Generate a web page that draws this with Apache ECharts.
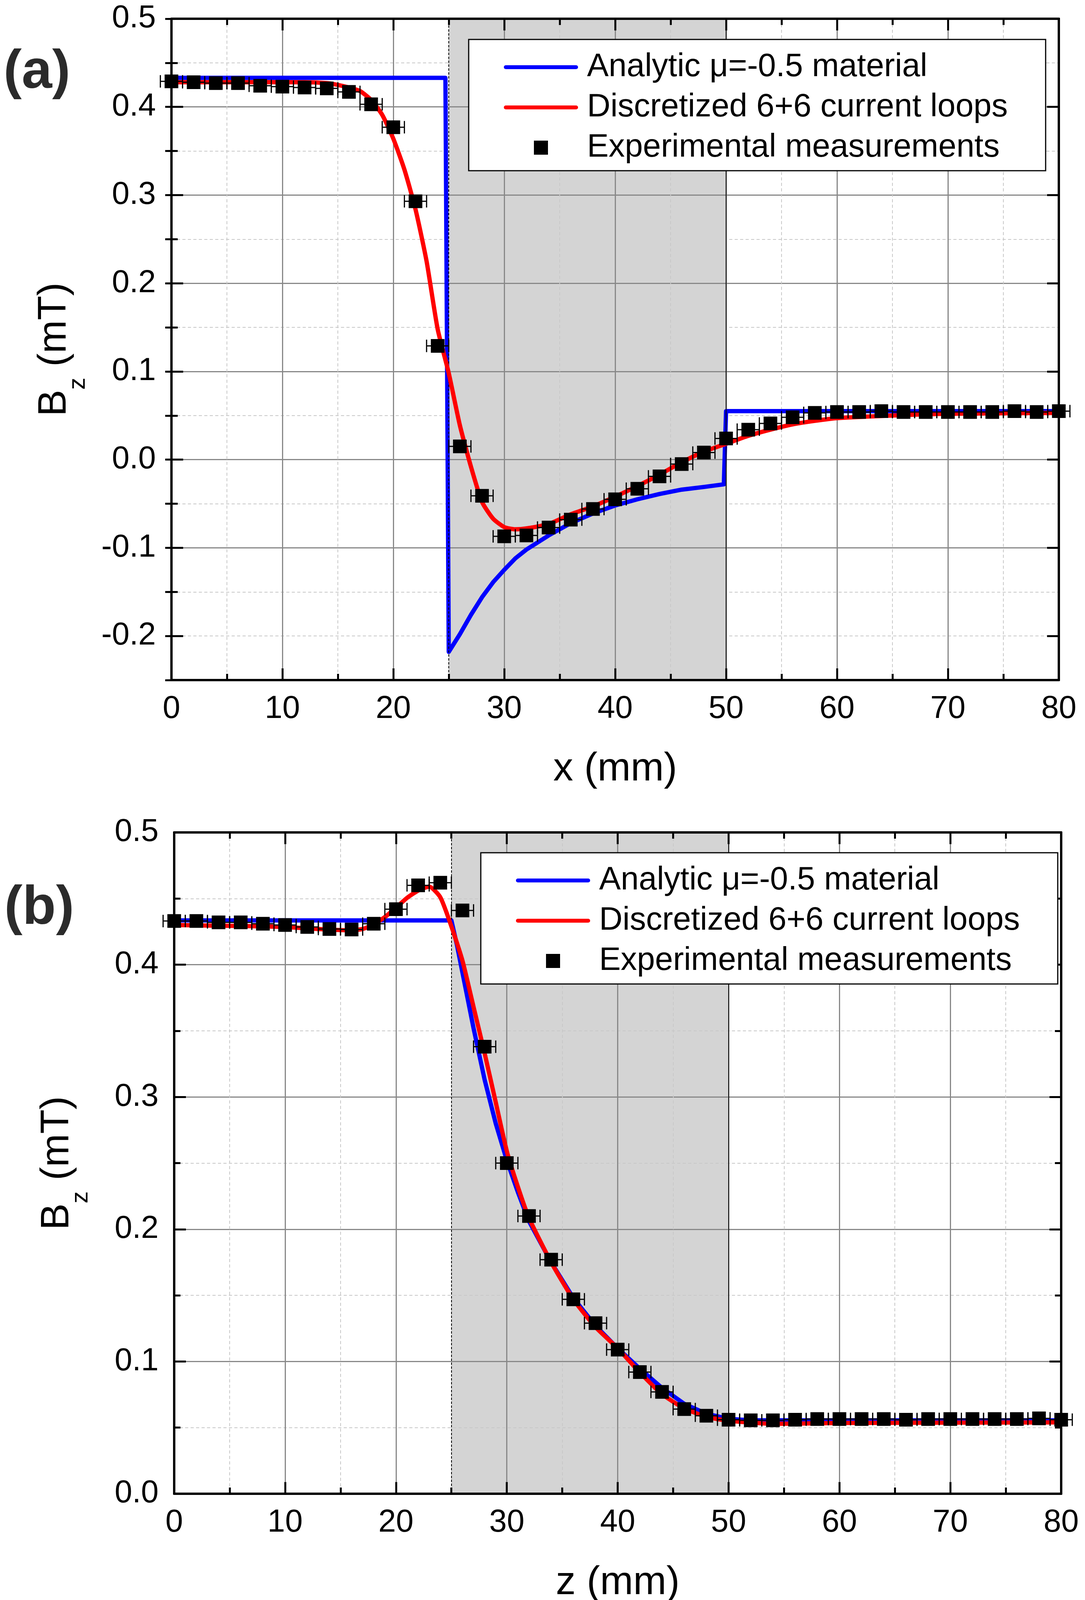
<!DOCTYPE html>
<html>
<head>
<meta charset="utf-8">
<title>Bz profiles</title>
<script src="https://cdn.jsdelivr.net/npm/echarts@6/dist/echarts.min.js"></script>
<style>
  html, body { margin: 0; background: #fff; }
  #chart { width: 2778px; height: 4133px; }
</style>
</head>
<body>
<div id="chart"></div>
<script>
var FONT = '"Liberation Sans", Arial, Helvetica, sans-serif';

// axis ticks
var xTicks = [0, 10, 20, 30, 40, 50, 60, 70, 80];
var yTicksA = [-0.2, -0.1, 0.0, 0.1, 0.2, 0.3, 0.4, 0.5];
var yTicksB = [0.0, 0.1, 0.2, 0.3, 0.4, 0.5];
var yRangeA = [-0.25, 0.5];
var yRangeB = [0.0, 0.5];

// material slab
var slab = [25, 50];

var NAME_AN = 'Analytic \u03bc=-0.5 material';
var NAME_DI = 'Discretized 6+6 current loops';
var NAME_EX = 'Experimental measurements';

// measured positions (mm) and half-width of the position error bars
var measX = [0, 2, 4, 6, 8, 10, 12, 14, 16, 18, 20, 22, 24, 26, 28, 30, 32, 34, 36, 38, 40,
             42, 44, 46, 48, 50, 52, 54, 56, 58, 60, 62, 64, 66, 68, 70, 72, 74, 76, 78, 80];
var xErr = 1.0;

// (a) along x
var measYA = [0.429, 0.428, 0.427, 0.427, 0.424, 0.423, 0.422, 0.421, 0.417, 0.403, 0.377,
              0.293, 0.129, 0.015, -0.041, -0.087, -0.086, -0.077, -0.068, -0.056, -0.045,
              -0.033, -0.019, -0.005, 0.008, 0.024, 0.034, 0.041, 0.048, 0.053, 0.054,
              0.054, 0.055, 0.054, 0.054, 0.054, 0.054, 0.054, 0.055, 0.054, 0.055];
var anaA = [[0, 0.433], [24.7, 0.433], [25.0, -0.218], [26, -0.198], [27, -0.176], [28, -0.156],
            [29, -0.139], [30, -0.125], [31, -0.112], [32, -0.102], [34, -0.086], [36, -0.072],
            [38, -0.061], [40, -0.052], [42, -0.045], [44, -0.039], [46, -0.034], [48, -0.031],
            [49.8, -0.028], [50.0, 0.055], [80, 0.055]];
var disA = [[0, 0.428], [5, 0.428], [10, 0.428], [12, 0.428], [14, 0.427], [15, 0.425], [16, 0.422],
            [17, 0.418], [18, 0.408], [19, 0.391], [20, 0.364], [21, 0.329], [22, 0.284], [23, 0.225],
            [24, 0.148], [25, 0.098], [26, 0.039], [27, -0.008], [28, -0.048], [29, -0.067],
            [30, -0.0765], [31, -0.079], [32, -0.078], [34, -0.073], [36, -0.062], [38, -0.053],
            [40, -0.042], [42, -0.030], [44, -0.017], [46, -0.003], [48, 0.009], [50, 0.018],
            [52, 0.027], [54, 0.034], [56, 0.040], [58, 0.044], [60, 0.047], [65, 0.050],
            [70, 0.052], [80, 0.053]];

// (b) along z
var measYB = [0.433, 0.433, 0.432, 0.432, 0.431, 0.430, 0.4285, 0.427, 0.4266, 0.431, 0.442,
              0.460, 0.462, 0.441, 0.338, 0.250, 0.210, 0.177, 0.147, 0.129, 0.109,
              0.092, 0.077, 0.064, 0.059, 0.056, 0.0555, 0.0555, 0.056, 0.0565, 0.0565,
              0.0565, 0.0565, 0.056, 0.0565, 0.0565, 0.0565, 0.0565, 0.0565, 0.057, 0.056];
var anaB = [[0, 0.4335], [25, 0.4335], [25.5, 0.415], [26, 0.394], [27, 0.352], [28, 0.313],
            [29, 0.280], [30, 0.252], [31, 0.228], [32, 0.206], [34, 0.175], [36, 0.148],
            [38, 0.127], [40, 0.110], [42, 0.0945], [44, 0.080], [46, 0.068], [48, 0.0605],
            [50, 0.0566], [52, 0.0555], [60, 0.0555], [80, 0.0555]];
var disB = [[0, 0.430], [4, 0.4295], [8, 0.429], [10, 0.4285], [12, 0.4275], [14, 0.4265],
            [16, 0.426], [17, 0.427], [18, 0.4305], [19, 0.436], [20, 0.443], [21, 0.4505],
            [22, 0.456], [23, 0.459], [24, 0.451], [25, 0.429], [26, 0.403], [27, 0.368],
            [28, 0.333], [29, 0.296], [30, 0.259], [31, 0.232], [32, 0.2085], [34, 0.175],
            [36, 0.147], [38, 0.126], [40, 0.110], [42, 0.0917], [44, 0.0753], [46, 0.0646],
            [48, 0.0582], [50, 0.0552], [54, 0.0529], [60, 0.0535], [80, 0.054]];

var chart = echarts.init(document.getElementById('chart'), null, { renderer: 'canvas' });

var LINE_W = 11;
var AXIS_LINE = { show: true, onZero: false, lineStyle: { color: '#000', width: 6 } };
var MAJOR_TICK = { show: true, inside: true, length: 30, lineStyle: { color: '#000', width: 5 } };
var MINOR_TICK = { show: true, splitNumber: 2, length: 16, lineStyle: { color: '#000', width: 5 } };
var MAJOR_GRID = { show: true, showMinLine: false, showMaxLine: false,
                   lineStyle: { color: '#888', width: 3 } };
var MINOR_GRID = { show: true, lineStyle: { color: '#c8c8c8', width: 2, type: [8, 6] } };
var LABEL = { fontSize: 81, color: '#000', fontFamily: FONT };

// legend glyphs: a rounded bar for the curves, a square for the measurements
var ICON_BAR = 'path://M5,0 H185 A5,5 0 0 1 185,10 H5 A5,5 0 0 1 5,0 Z';
var ICON_SQ = 'path://M0,0 H10 V10 H0 Z';

function fmt1(v) { return Number(v).toFixed(1); }

function xAxisPair(gridIndex, title) {
  var base = {
    type: 'value', gridIndex: gridIndex, z: 2,
    min: xTicks[0], max: xTicks[xTicks.length - 1], interval: xTicks[1] - xTicks[0],
    axisLine: AXIS_LINE, axisTick: MAJOR_TICK, minorTick: MINOR_TICK
  };
  var bottom = Object.assign({}, base, {
    position: 'bottom',
    axisLabel: Object.assign({ margin: 34 }, LABEL),
    splitLine: MAJOR_GRID, minorSplitLine: MINOR_GRID,
    name: title, nameLocation: 'middle', nameGap: 178, nameMoveOverlap: false,
    nameTextStyle: { fontSize: 102, color: '#000', fontFamily: FONT }
  });
  var top = Object.assign({}, base, {
    position: 'top', axisLabel: { show: false },
    splitLine: { show: false }, minorSplitLine: { show: false }
  });
  return [bottom, top];
}

var Y_NAME = {
  name: '{b|B}{s|z}{b| (mT)}', nameLocation: 'middle', nameGap: 208, nameMoveOverlap: false,
  nameTextStyle: {
    color: '#000', fontFamily: FONT,
    rich: {
      b: { fontSize: 102, lineHeight: 110, verticalAlign: 'top', fontFamily: FONT, color: '#000' },
      s: { fontSize: 62, lineHeight: 142, verticalAlign: 'bottom', fontFamily: FONT, color: '#000' }
    }
  }
};

// (a): range starts at -0.25, so major ticks come from the tick list
var yAxesA = [
  Object.assign({
    type: 'value', gridIndex: 0, position: 'left', z: 2,
    min: yRangeA[0], max: yRangeA[1],
    axisLine: AXIS_LINE,
    axisTick: Object.assign({ customValues: yTicksA }, MAJOR_TICK),
    axisLabel: Object.assign({ customValues: yTicksA, margin: 40, formatter: fmt1 }, LABEL),
    splitLine: MAJOR_GRID
  }, Y_NAME),
  {
    type: 'value', gridIndex: 0, position: 'left', z: 1,
    min: yRangeA[0], max: yRangeA[1], interval: 0.05,
    axisLine: { show: false }, axisLabel: { show: false },
    axisTick: { show: true, inside: true, length: 16, lineStyle: { color: '#000', width: 5 } },
    splitLine: { show: true, showMinLine: false, showMaxLine: false, lineStyle: MINOR_GRID.lineStyle }
  },
  {
    type: 'value', gridIndex: 0, position: 'right', z: 2,
    min: yRangeA[0], max: yRangeA[1],
    axisLine: AXIS_LINE,
    axisTick: Object.assign({ customValues: yTicksA }, MAJOR_TICK),
    axisLabel: { show: false }, splitLine: { show: false }
  },
  {
    type: 'value', gridIndex: 0, position: 'right', z: 1,
    min: yRangeA[0], max: yRangeA[1], interval: 0.05,
    axisLine: { show: false }, axisLabel: { show: false },
    axisTick: { show: true, inside: true, length: 16, lineStyle: { color: '#000', width: 5 } },
    splitLine: { show: false }
  }
];

var yAxesB = [
  Object.assign({
    type: 'value', gridIndex: 1, position: 'left', z: 2,
    min: yTicksB[0], max: yTicksB[yTicksB.length - 1], interval: yTicksB[1] - yTicksB[0],
    axisLine: AXIS_LINE, axisTick: MAJOR_TICK, minorTick: MINOR_TICK,
    axisLabel: Object.assign({ margin: 40, formatter: fmt1 }, LABEL),
    splitLine: MAJOR_GRID, minorSplitLine: MINOR_GRID
  }, Y_NAME),
  {
    type: 'value', gridIndex: 1, position: 'right', z: 2,
    min: yRangeB[0], max: yRangeB[1], interval: yTicksB[1] - yTicksB[0],
    axisLine: AXIS_LINE, axisTick: MAJOR_TICK, minorTick: MINOR_TICK,
    axisLabel: { show: false }, splitLine: { show: false }, minorSplitLine: { show: false }
  }
];

function errorBar(params, api) {
  var x = api.value(0), y = api.value(1), e = api.value(2);
  var l = api.coord([x - e, y]);
  var r = api.coord([x + e, y]);
  var cap = 16;
  var st = { stroke: '#000', lineWidth: 3, fill: null };
  return {
    type: 'group',
    children: [
      { type: 'line', shape: { x1: l[0], y1: l[1], x2: r[0], y2: r[1] }, style: st },
      { type: 'line', shape: { x1: l[0], y1: l[1] - cap, x2: l[0], y2: l[1] + cap }, style: st },
      { type: 'line', shape: { x1: r[0], y1: r[1] - cap, x2: r[0], y2: r[1] + cap }, style: st }
    ]
  };
}

function panelSeries(xi, yi, measY, ana, dis) {
  var pts = measX.map(function (x, i) { return [x, measY[i]]; });
  var bars = measX.map(function (x, i) { return [x, measY[i], xErr]; });
  return [
    {
      type: 'line', name: 'slab', xAxisIndex: xi, yAxisIndex: yi, z: 0, data: [],
      silent: true,
      markArea: { silent: true, itemStyle: { color: '#d4d4d4', opacity: 1 },
                  data: [[{ xAxis: slab[0] }, { xAxis: slab[1] }]] }
    },
    {
      type: 'line', name: 'edges', xAxisIndex: xi, yAxisIndex: yi, z: 3, data: [],
      silent: true,
      markLine: {
        silent: true, symbol: ['none', 'none'], label: { show: false },
        data: [
          { xAxis: slab[0], lineStyle: { color: '#000', width: 2, type: [6, 4] } },
          { xAxis: slab[1], lineStyle: { color: '#000', width: 2, type: 'solid' } }
        ]
      }
    },
    {
      type: 'line', name: NAME_AN, xAxisIndex: xi, yAxisIndex: yi, z: 4,
      data: ana, symbol: 'none', showSymbol: false,
      lineStyle: { color: '#0000ff', width: LINE_W, cap: 'round', join: 'round' },
      itemStyle: { color: '#0000ff' }
    },
    {
      type: 'line', name: NAME_DI, xAxisIndex: xi, yAxisIndex: yi, z: 5,
      data: dis, symbol: 'none', showSymbol: false, smooth: 0.2,
      lineStyle: { color: '#ff0000', width: LINE_W, cap: 'round', join: 'round' },
      itemStyle: { color: '#ff0000' }
    },
    {
      type: 'custom', name: 'xerr', xAxisIndex: xi, yAxisIndex: yi, z: 6,
      renderItem: errorBar, data: bars, encode: { x: 0, y: 1 }, clip: false, silent: true
    },
    {
      type: 'scatter', name: NAME_EX, xAxisIndex: xi, yAxisIndex: yi, z: 7,
      data: pts, symbol: 'rect', symbolSize: 35, clip: false,
      itemStyle: { color: '#000', opacity: 1 }
    }
  ];
}

function legendAt(left, top) {
  return {
    left: left, top: top, orient: 'vertical', z: 20,
    data: [
      { name: NAME_AN, icon: ICON_BAR },
      { name: NAME_DI, icon: ICON_BAR },
      { name: NAME_EX, icon: ICON_SQ }
    ],
    selectedMode: false, symbolKeepAspect: true,
    padding: [26, 97, 14, 90], itemWidth: 190, itemHeight: 36, itemGap: 13,
    itemStyle: { borderWidth: 0, opacity: 1 },
    backgroundColor: '#fff', borderColor: '#000', borderWidth: 3, borderRadius: 0,
    textStyle: { fontSize: 83, color: '#000', fontFamily: FONT, lineHeight: 90, padding: [0, 0, 0, 18] }
  };
}

var xa = xAxisPair(0, 'x (mm)');
var xb = xAxisPair(1, 'z (mm)');

var option = {
  animation: false,
  backgroundColor: '#fff',
  textStyle: { fontFamily: FONT },
  grid: [
    { left: 439, top: 48, width: 2272, height: 1693, outerBoundsMode: 'none', containLabel: false },
    { left: 446, top: 2131, width: 2271, height: 1693, outerBoundsMode: 'none', containLabel: false }
  ],
  xAxis: [xa[0], xa[1], xb[0], xb[1]],
  yAxis: yAxesA.concat(yAxesB),
  legend: [legendAt(1200, 101), legendAt(1231, 2183)],
  graphic: [
    { type: 'text', left: 9, top: 116, z: 30,
      style: { text: '(a)', font: 'bold 140px ' + FONT, fill: '#2b2b2b' } },
    { type: 'text', left: 11, top: 2256, z: 30,
      style: { text: '(b)', font: 'bold 140px ' + FONT, fill: '#2b2b2b' } }
  ],
  series: panelSeries(0, 0, measYA, anaA, disA).concat(panelSeries(2, 4, measYB, anaB, disB))
};

chart.setOption(option);
</script>
</body>
</html>
